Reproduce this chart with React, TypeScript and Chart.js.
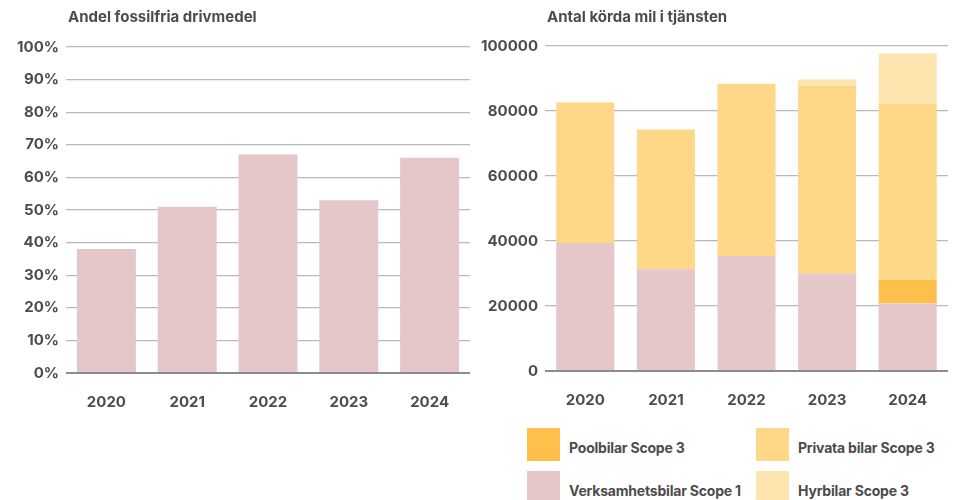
import React, { useEffect, useRef } from "react";
import { Chart, registerables } from "chart.js";

Chart.register(...registerables);

const years = ["2020", "2021", "2022", "2023", "2024"];
const fossilFreeShare = [38, 51, 67, 53, 66];
const verksamhetsbilar = [39400, 31300, 35400, 29900, 20800];
const poolbilar = [0, 0, 0, 0, 7200];
const privataBilar = [43200, 43000, 53000, 57900, 54300];
const hyrbilar = [0, 0, 0, 1900, 15400];

const leftTitle = "Andel fossilfria drivmedel";
const rightTitle = "Antal körda mil i tjänsten";

const FONT = "Inter";
const TEXT = "#4f4b4b";
const PINK = "#e5c7c9";
const POOL = "#fec04a";
const PRIV = "#fed788";
const HYR = "#fee4ae";

const titlePlugin = (text: string) => ({
  id: "leftTitle",
  afterDraw(chart: any) {
    const { ctx, chartArea } = chart;
    ctx.save();
    ctx.font = `bold 15px ${FONT}`;
    ctx.fillStyle = TEXT;
    ctx.textAlign = "left";
    ctx.textBaseline = "middle";
    ctx.fillText(text, chartArea.left + 2, 17);
    ctx.restore();
  },
});

const gridOpts = {
  drawTicks: false,
  color: (c: any) => (c.tick && c.tick.value === 0 ? "#8c8c8c" : "#b9b9b9"),
  lineWidth: (c: any) => (c.tick && c.tick.value === 0 ? 2 : 1.2),
};

function xAxis(stacked: boolean) {
  return {
    stacked,
    grid: { display: false },
    border: { display: false },
    afterFit: (s: any) => {
      s.height = 38;
    },
    ticks: { color: TEXT, font: { family: FONT, size: 15, weight: "bold" }, padding: 12, maxRotation: 0 },
  };
}

function LeftChart() {
  const ref = useRef<HTMLCanvasElement>(null);
  useEffect(() => {
    const chart = new Chart(ref.current!, {
      type: "bar",
      data: {
        labels: years,
        datasets: [
          {
            label: leftTitle,
            data: fossilFreeShare,
            backgroundColor: PINK,
            borderWidth: 0,
            categoryPercentage: 1,
            barPercentage: 0.73,
          },
        ],
      },
      options: {
        animation: false,
        responsive: false,
        events: [],
        layout: { padding: { top: 47, right: 10, bottom: 9, left: 0 } },
        plugins: { legend: { display: false }, tooltip: { enabled: false } },
        scales: {
          x: xAxis(false),
          y: {
            min: 0,
            max: 100,
            afterFit: (s: any) => {
              s.width = 66;
            },
            grid: gridOpts,
            border: { display: false },
            ticks: {
              stepSize: 10,
              padding: 7,
              color: TEXT,
              font: { family: FONT, size: 15, weight: "bold" },
              callback: (v: any) => v + "%",
            },
          },
        },
      },
      plugins: [titlePlugin(leftTitle)],
    } as any);
    return () => chart.destroy();
  }, []);
  return <canvas ref={ref} width={480} height={420} style={{ position: "absolute", left: 0, top: 0 }} />;
}

function RightChart() {
  const ref = useRef<HTMLCanvasElement>(null);
  useEffect(() => {
    const common = { borderWidth: 0, categoryPercentage: 1, barPercentage: 0.72 };
    const chart = new Chart(ref.current!, {
      type: "bar",
      data: {
        labels: years,
        datasets: [
          { label: "Verksamhetsbilar Scope 1", data: verksamhetsbilar, backgroundColor: PINK, ...common },
          { label: "Poolbilar Scope 3", data: poolbilar, backgroundColor: POOL, ...common },
          { label: "Privata bilar Scope 3", data: privataBilar, backgroundColor: PRIV, ...common },
          { label: "Hyrbilar Scope 3", data: hyrbilar, backgroundColor: HYR, ...common },
        ],
      },
      options: {
        animation: false,
        responsive: false,
        events: [],
        layout: { padding: { top: 46, right: 14, bottom: 11, left: 0 } },
        plugins: { legend: { display: false }, tooltip: { enabled: false } },
        scales: {
          x: xAxis(true),
          y: {
            stacked: true,
            min: 0,
            max: 100000,
            afterFit: (s: any) => {
              s.width = 65;
            },
            grid: gridOpts,
            border: { display: false },
            ticks: {
              stepSize: 20000,
              padding: 7,
              color: TEXT,
              font: { family: FONT, size: 15, weight: "bold" },
              callback: (v: any) => String(v),
            },
          },
        },
      },
      plugins: [titlePlugin(rightTitle)],
    } as any);
    return () => chart.destroy();
  }, []);
  return <canvas ref={ref} width={482} height={420} style={{ position: "absolute", left: 480, top: 0 }} />;
}

const legendItems = [
  { label: "Poolbilar Scope 3", color: POOL, x: 527, y: 428 },
  { label: "Privata bilar Scope 3", color: PRIV, x: 756, y: 428 },
  { label: "Verksamhetsbilar Scope 1", color: PINK, x: 527, y: 471 },
  { label: "Hyrbilar Scope 3", color: HYR, x: 756, y: 471 },
];

export default function App() {
  return (
    <div style={{ position: "absolute", left: 0, top: 0, width: 962, height: 500, overflow: "hidden", background: "#fff" }}>
      <LeftChart />
      <RightChart />
      {legendItems.map((it) => (
        <div key={it.label} style={{ position: "absolute", left: it.x, top: it.y, display: "flex", alignItems: "center", height: 33 }}>
          <div style={{ width: 33, height: 33, background: it.color }} />
          <span
            style={{
              marginLeft: 9,
              marginTop: 6,
              fontFamily: FONT,
              fontWeight: 700,
              fontSize: 14,
              color: TEXT,
              whiteSpace: "nowrap",
              letterSpacing: "-0.2px",
            }}
          >
            {it.label}
          </span>
        </div>
      ))}
    </div>
  );
}
